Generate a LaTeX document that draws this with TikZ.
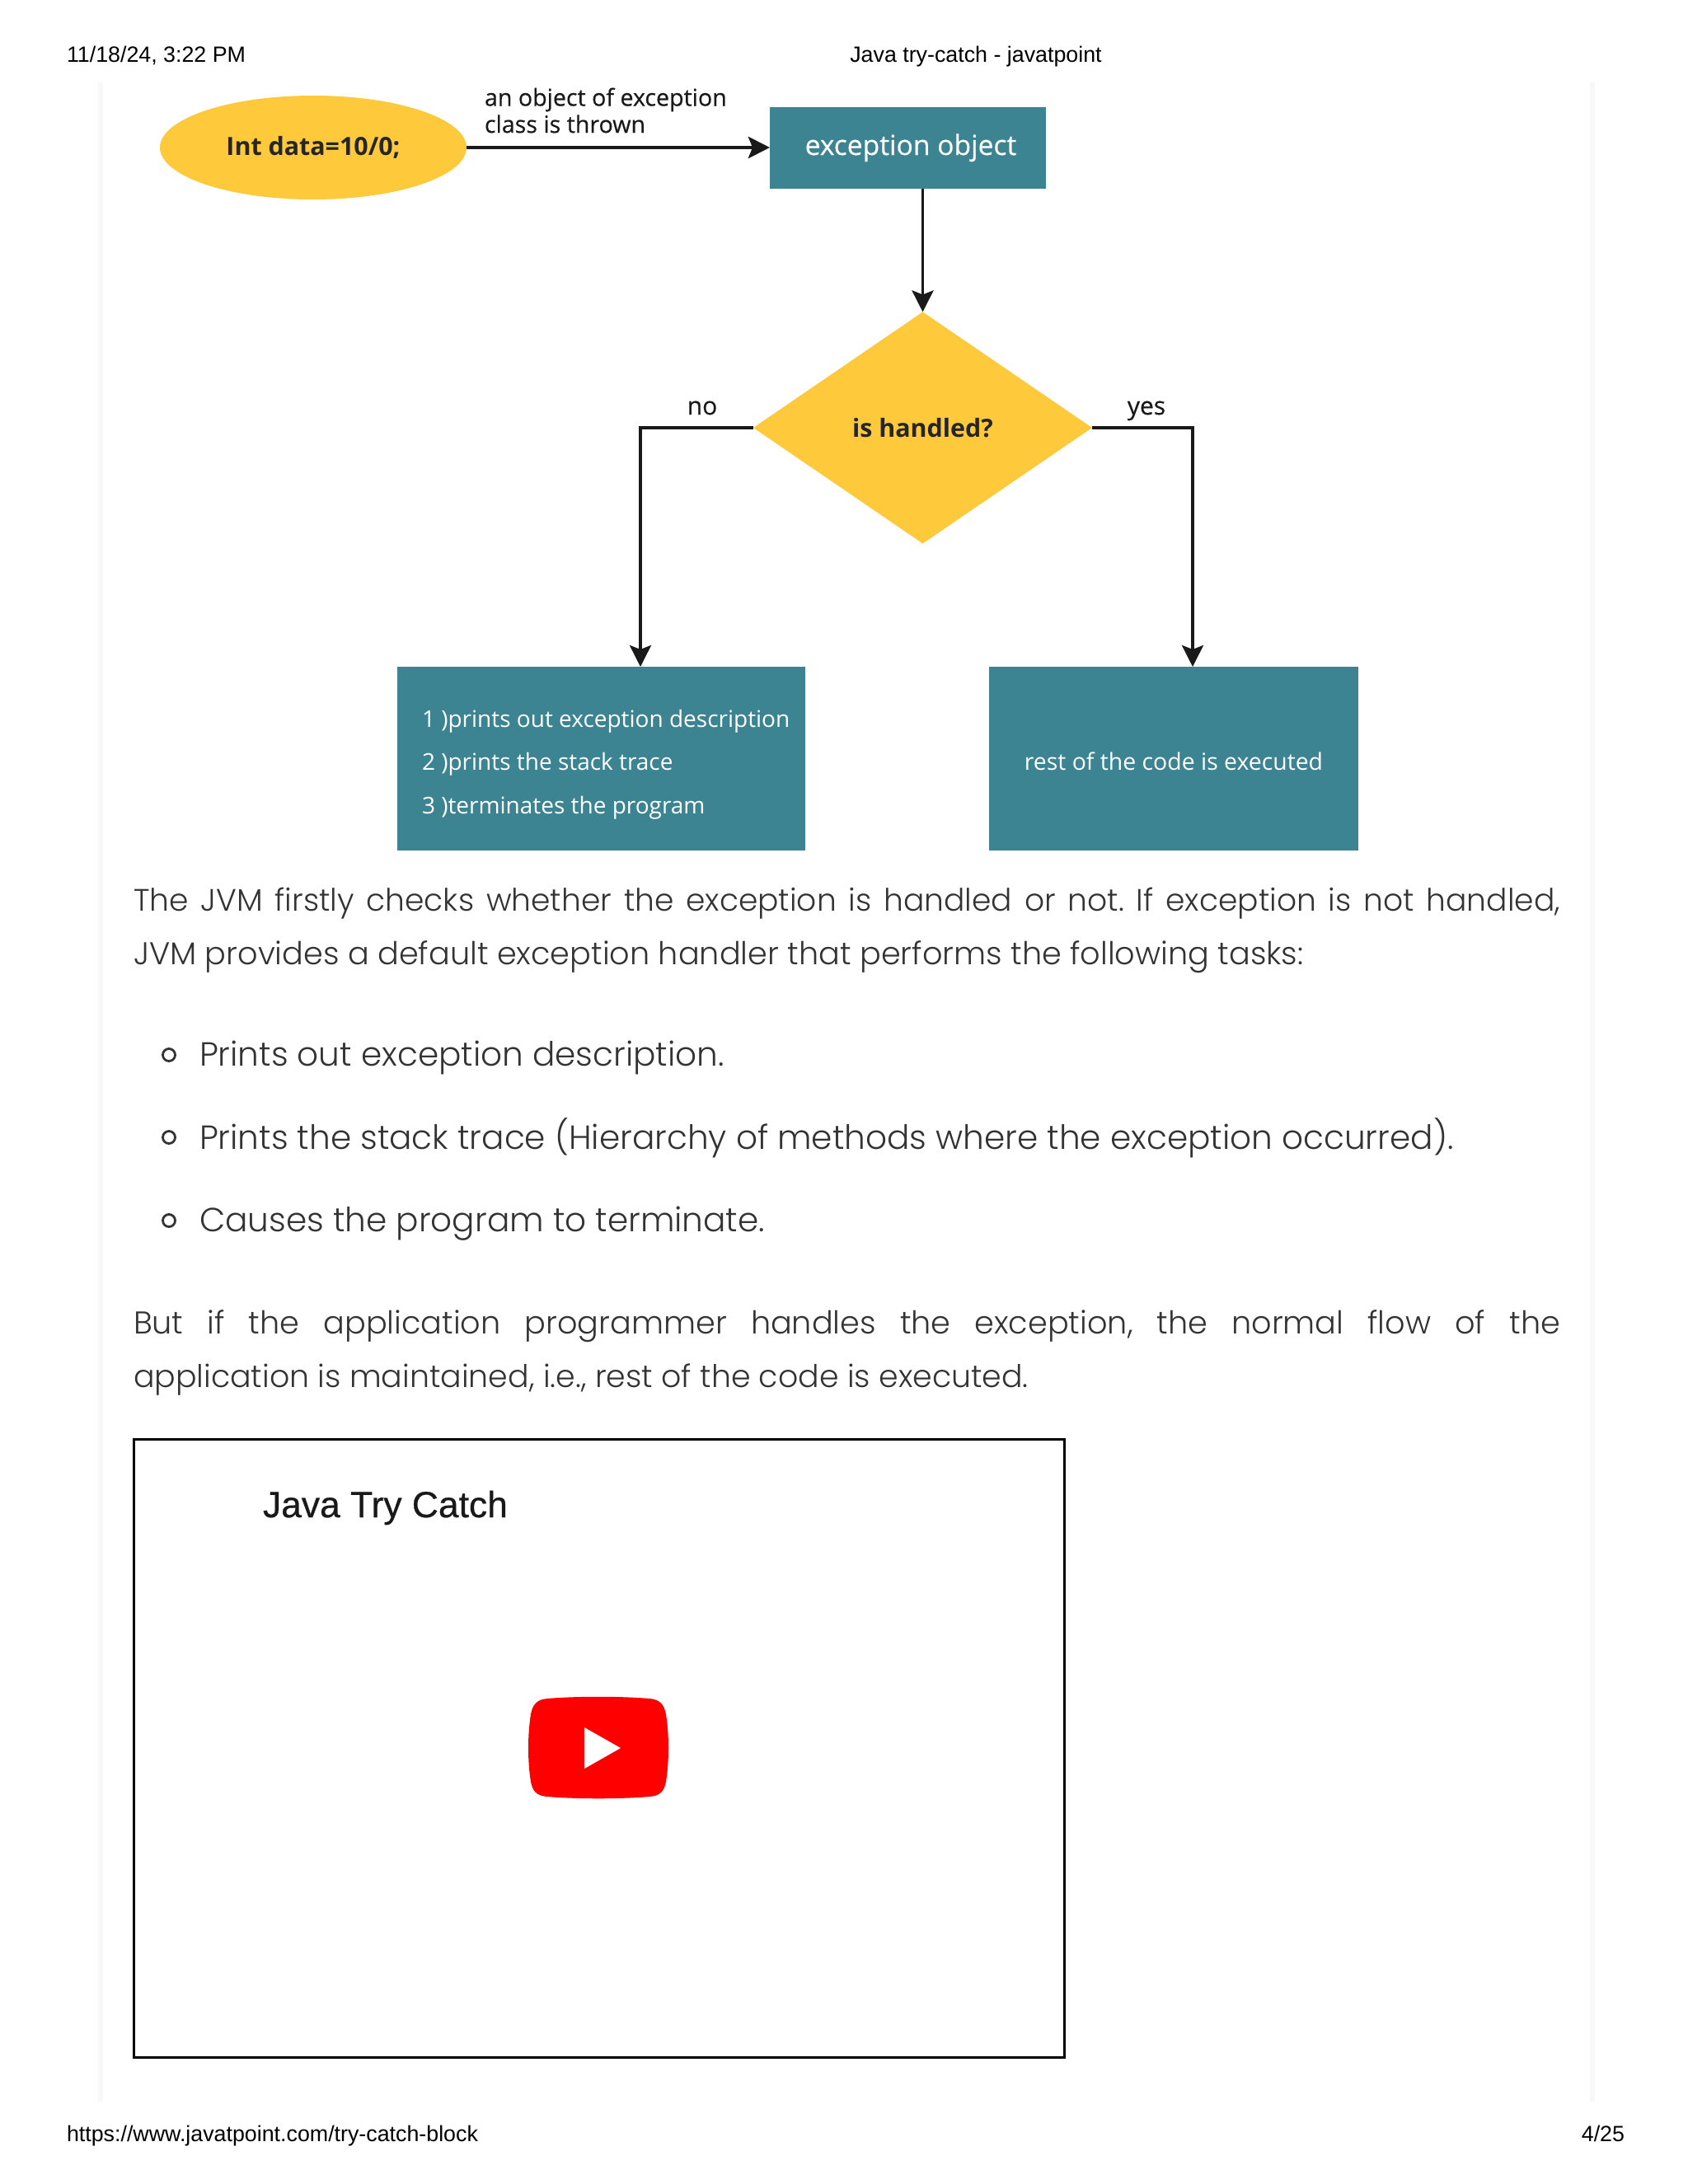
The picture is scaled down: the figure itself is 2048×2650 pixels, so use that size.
\documentclass[tikz,border=0pt]{standalone}
\usepackage{fontspec}
\usetikzlibrary{shapes.geometric,arrows.meta}
\setmainfont{Liberation Sans}
\newfontfamily\bodyfont{Poppins Light}
\newfontfamily\chartfont{Open Sans}
\newfontfamily\chartheavy{Open Sans}[FakeBold=0.4]
\newfontfamily\videofont{Liberation Sans}[FakeBold=0.5]
\definecolor{gold}{HTML}{FFC93C}
\definecolor{teal1}{HTML}{3D8492}
\definecolor{ink}{HTML}{333333}
\definecolor{pageedge}{HTML}{F8F8F8}
\frenchspacing
\tikzset{
 x=0.5pt,y=-0.5pt,
 every node/.style={inner sep=0pt,outer sep=0pt},
 hdr/.style={font=\fontsize{13.4}{16}\selectfont,text=black,text height=10pt,text depth=3pt},
 chartyellow/.style={fill=gold,font=\chartfont\fontsize{15.2}{18}\selectfont\bfseries,text=black!85},
 tealbox/.style={fill=teal1,anchor=north west},
 tealtext/.style={font=\chartfont\fontsize{14}{18}\selectfont,text=white,text height=11pt,text depth=3pt},
 lbl/.style={font=\chartheavy\fontsize{14.3}{16.3}\selectfont,text=black!90},
 flow/.style={line width=1.9pt,black!90,-{Stealth[length=13pt,width=13pt,inset=2.5pt]}},
 body/.style={font=\bodyfont\fontsize{19.1}{22}\selectfont,text=ink,anchor=west,text height=14pt,text depth=4pt},
 listtext/.style={body,font=\bodyfont\fontsize{20.3}{24}\selectfont},
 bul/.style={circle,draw=ink,line width=1.4pt,minimum size=7.5pt,fill=none},
}
\begin{document}
\begin{tikzpicture}
\useasboundingbox (0,0) rectangle (2048,2650);
\fill[white] (0,0) rectangle (2048,2650);
% page column edges
\coordinate (edgeLT) at (122,100); \coordinate (edgeLB) at (122,2550);
\coordinate (edgeRT) at (1932,100); \coordinate (edgeRB) at (1932,2550);
\draw[pageedge,line width=3pt] (edgeLT) -- (edgeLB);
\draw[pageedge,line width=3pt] (edgeRT) -- (edgeRB);
% header and footer
\node[hdr,anchor=west] (date) at (81,68) {11/18/24, 3:22 PM};
\node[hdr] (title) at (1184,68) {Java try-catch - javatpoint};
\node[hdr,anchor=west] (url) at (81,2591) {https://www.javatpoint.com/try-catch-block};
\node[hdr,anchor=east] (pageno) at (1971,2591) {4/25};
% flow chart
\node[ellipse,chartyellow,minimum width=186pt,minimum height=63pt] (start) at (380,179) {Int data=10/0;};
\node[tealbox,minimum width=167.5pt,minimum height=49.5pt] (exc) at (934,130) {};
\node[tealtext,font=\chartheavy\fontsize{16.8}{18}\selectfont] (exctext) at (1105,180) {exception object};
\node[lbl,anchor=west,align=left] (thrown) at (588,134) {an object of exception\\class is thrown};
\node[diamond,chartyellow,minimum width=205.5pt,minimum height=140.5pt,aspect=1.46] (dec) at (1119.5,519) {is handled?};
\node[tealbox,minimum width=247.5pt,minimum height=111.5pt] (left) at (482,809) {};
\node[tealbox,minimum width=224pt,minimum height=111.5pt] (right) at (1200,809) {};
\node[tealtext,anchor=west] (t1) at (512,874) {1 )prints out exception description};
\node[tealtext,anchor=west] (t2) at (512,926) {2 )prints the stack trace};
\node[tealtext,anchor=west] (t3) at (512,979) {3 )terminates the program};
\node[tealtext,font=\chartfont\fontsize{14.2}{18}\selectfont] (t4) at (1424,926) {rest of the code is executed};
\node[lbl,font=\chartheavy\fontsize{15}{18}\selectfont,text height=11pt,text depth=3pt] (no) at (852,495) {no};
\node[lbl,font=\chartheavy\fontsize{15}{18}\selectfont,text height=11pt,text depth=3pt] (yes) at (1391,495) {yes};
\coordinate (noDrop) at (777,809);
\coordinate (yesDrop) at (1447,809);
\draw[flow,line width=2.4pt] (start.east) -- (start.east -| exc.west);
\draw[flow] (dec.north |- exc.south) -- (dec.north);
\draw[flow] (dec.west) -| (noDrop);
\draw[flow] (dec.east) -| (yesDrop);
% body text
\node[body,font=\bodyfont\fontsize{18.8}{22}\selectfont] (p1a) at (162,1095) {\makebox[865.5pt][s]{The JVM firstly checks whether the exception is handled or not. If exception is not handled,}};
\node[body] (p1b) at (162,1160) {JVM provides a default exception handler that performs the following tasks:};
\node[bul] (b1) at (205,1280) {};
\node[bul] (b2) at (205,1380) {};
\node[bul] (b3) at (205,1481) {};
\node[listtext] (l1) at (242,1283) {Prints out exception description.};
\node[listtext] (l2) at (242,1384) {Prints the stack trace (Hierarchy of methods where the exception occurred).};
\node[listtext] (l3) at (242,1484) {Causes the program to terminate.};
\node[body] (p2a) at (162,1608) {\makebox[865.5pt][s]{But if the application programmer handles the exception, the normal flow of the}};
\node[body,font=\bodyfont\fontsize{18.95}{22}\selectfont] (p2b) at (162,1673) {application is maintained, i.e., rest of the code is executed.};
% video frame
\node[draw=black,line width=1.5pt,fill=white,anchor=north west,minimum width=564.5pt,minimum height=375pt] (video) at (162,1746) {};
\node[font=\videofont\fontsize{22.2}{26}\selectfont,text=black!90,anchor=west,text height=16pt,text depth=5pt] (vtitle) at (319,1830) {Java Try Catch};
\fill[red] (664,2061) .. controls (700,2058) and (752,2058) .. (788,2061)
 .. controls (802,2062) and (806,2070) .. (808,2080)
 .. controls (812,2105) and (812,2137) .. (808,2162)
 .. controls (806,2172) and (802,2179) .. (788,2180)
 .. controls (752,2183) and (700,2183) .. (664,2180)
 .. controls (650,2179) and (646,2172) .. (644,2162)
 .. controls (640,2137) and (640,2105) .. (644,2080)
 .. controls (646,2070) and (650,2062) .. (664,2061) -- cycle;
\fill[white] (709,2096) -- (753,2121) -- (709,2146) -- cycle;
\end{tikzpicture}
\end{document}
